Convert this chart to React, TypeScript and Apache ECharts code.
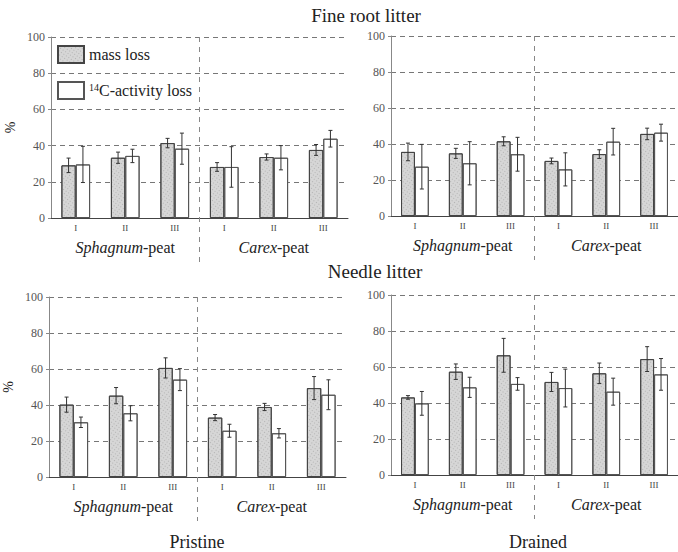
import React, { useEffect, useRef } from "react";
import * as echarts from "echarts";

const categories = ["I", "II", "III", "I ", "II ", "III "];
const groups = ["Sphagnum", "Carex"];

const finePristineMass = [29.1, 33.3, 41.4, 28.2, 33.7, 37.6];
const finePristineMassErr = [4.0, 3.1, 2.6, 2.4, 1.7, 3.0];
const finePristineC14 = [29.6, 34.3, 38.3, 28.2, 33.3, 43.8];
const finePristineC14Err = [10.0, 3.7, 8.6, 11.2, 6.7, 4.6];

const fineDrainedMass = [35.6, 34.8, 41.5, 30.6, 34.4, 45.6];
const fineDrainedMassErr = [4.9, 2.8, 2.5, 1.6, 2.4, 3.2];
const fineDrainedC14 = [27.4, 29.3, 34.3, 25.9, 41.3, 46.3];
const fineDrainedC14Err = [12.4, 12.0, 9.4, 9.2, 7.4, 4.7];

const needlePristineMass = [40.2, 45.2, 60.6, 33.0, 38.9, 49.4];
const needlePristineMassErr = [4.2, 4.5, 5.6, 1.7, 2.0, 6.4];
const needlePristineC14 = [30.4, 35.4, 54.1, 25.7, 24.3, 45.7];
const needlePristineC14Err = [2.9, 4.2, 6.1, 3.6, 2.6, 8.3];

const needleDrainedMass = [43.1, 57.4, 66.5, 51.7, 56.5, 64.4];
const needleDrainedMassErr = [1.0, 4.3, 9.4, 5.3, 5.7, 6.9];
const needleDrainedC14 = [39.8, 48.7, 50.6, 48.3, 46.3, 55.9];
const needleDrainedC14Err = [6.6, 5.6, 3.5, 10.5, 7.5, 8.8];

const FONT = "Times New Roman";
const GFONT = '"Liberation Serif", serif';
const GAP = 0.42;

const panels = [
  { mass: finePristineMass, massErr: finePristineMassErr, c14: finePristineC14, c14Err: finePristineC14Err, grid: { left: 51, top: 37, width: 297, height: 181 }, yName: "%" },
  { mass: fineDrainedMass, massErr: fineDrainedMassErr, c14: fineDrainedC14, c14Err: fineDrainedC14Err, grid: { left: 391, top: 36, width: 297, height: 180 }, yName: "" },
  { mass: needlePristineMass, massErr: needlePristineMassErr, c14: needlePristineC14, c14Err: needlePristineC14Err, grid: { left: 49, top: 297, width: 297, height: 180 }, yName: "%" },
  { mass: needleDrainedMass, massErr: needleDrainedMassErr, c14: needleDrainedC14, c14Err: needleDrainedC14Err, grid: { left: 391, top: 295, width: 297, height: 180 }, yName: "" },
];

const speckle = {
  symbol: "rect",
  symbolSize: 1,
  dashArrayX: [1, 2],
  dashArrayY: [1, 2],
  rotation: 0.6,
  color: "rgba(110,110,110,0.35)",
};
const noDecal = {
  symbol: "rect",
  symbolSize: 0,
  color: "rgba(255,255,255,0)",
};

export default function App() {
  const ref = useRef<HTMLDivElement>(null);
  useEffect(() => {
    if (!ref.current) return;
    const chart = echarts.init(ref.current, null, { renderer: "svg" });
    const grids: any[] = [];
    const xAxes: any[] = [];
    const yAxes: any[] = [];
    const series: any[] = [];
    panels.forEach((p, i) => {
      grids.push({ ...p.grid, containLabel: false });
      xAxes.push({
        type: "category",
        gridIndex: i,
        data: categories,
        axisLine: { lineStyle: { color: "#444", width: 1 } },
        axisTick: { show: false },
        axisLabel: { interval: 0, formatter: (v: string) => v.trim(), fontFamily: FONT, fontSize: 9, color: "#444", margin: 5 },
        splitLine: { show: false },
      });
      xAxes.push({
        type: "category",
        gridIndex: i,
        data: groups,
        position: "bottom",
        offset: 13,
        axisLine: { show: false },
        axisTick: { show: false },
        axisLabel: {
          interval: 0,
          margin: 8,
          fontFamily: FONT,
          formatter: (v: string) => `{i|${v}}{n|-peat}`,
          rich: {
            i: { fontFamily: FONT, fontStyle: "italic", fontSize: 16, color: "#222" },
            n: { fontFamily: FONT, fontSize: 16, color: "#222" },
          },
        },
      });
      yAxes.push({
        type: "value",
        gridIndex: i,
        min: 0,
        max: 100,
        interval: 20,
        name: p.yName,
        nameLocation: "middle",
        nameGap: 34,
        nameRotate: 90,
        nameTextStyle: { fontFamily: FONT, fontSize: 14, color: "#222" },
        axisLine: { show: true, lineStyle: { color: "#888" } },
        axisTick: { show: true, length: 3, lineStyle: { color: "#888" } },
        axisLabel: { fontFamily: FONT, fontSize: 12, color: "#555", margin: 6 },
        splitLine: { show: true, lineStyle: { color: "#777", type: [5, 4], width: 1 } },
      });
      series.push({
        type: "bar",
        name: "mass loss",
        xAxisIndex: 2 * i,
        yAxisIndex: i,
        data: p.mass,
        barGap: "0%",
        barCategoryGap: GAP * 100 + "%",
        itemStyle: { color: "#d6d6d6", borderColor: "#444", borderWidth: 1, decal: speckle },
      });
      series.push({
        type: "bar",
        name: "14C-activity loss",
        xAxisIndex: 2 * i,
        yAxisIndex: i,
        data: p.c14,
        barGap: "0%",
        barCategoryGap: GAP * 100 + "%",
        itemStyle: { color: "#ffffff", borderColor: "#555", borderWidth: 1, decal: noDecal },
      });
      const errData: number[][] = [];
      p.mass.forEach((v, j) => {
        errData.push([j, v - p.massErr[j], v + p.massErr[j], 0]);
        errData.push([j, p.c14[j] - p.c14Err[j], p.c14[j] + p.c14Err[j], 1]);
      });
      series.push({
        type: "custom",
        xAxisIndex: 2 * i,
        yAxisIndex: i,
        data: errData,
        encode: { x: 0, y: [1, 2] },
        z: 5,
        renderItem: (params: any, api: any) => {
          const idx = api.value(0);
          const lo = api.coord([idx, api.value(1)]);
          const hi = api.coord([idx, api.value(2)]);
          const band = api.size([1, 0])[0];
          const barW = (band * (1 - GAP)) / 2;
          const x = lo[0] + (api.value(3) === 0 ? -barW / 2 : barW / 2);
          const cap = 2;
          const st = { stroke: "#333", lineWidth: 1 };
          return {
            type: "group",
            children: [
              { type: "line", shape: { x1: x, y1: lo[1], x2: x, y2: hi[1] }, style: st },
              { type: "line", shape: { x1: x - cap, y1: lo[1], x2: x + cap, y2: lo[1] }, style: st },
              { type: "line", shape: { x1: x - cap, y1: hi[1], x2: x + cap, y2: hi[1] }, style: st },
            ],
          };
        },
      });
      series.push({
        type: "custom",
        xAxisIndex: 2 * i,
        yAxisIndex: i,
        data: [[3, 100]],
        clip: false,
        silent: true,
        z: 1,
        renderItem: (params: any, api: any) => {
          const top = api.coord([api.value(0), api.value(1)]);
          const base = api.coord([api.value(0), 0]);
          const band = api.size([1, 0])[0];
          const x = top[0] - band / 2;
          return {
            type: "line",
            shape: { x1: x, y1: top[1], x2: x, y2: base[1] + 44 },
            style: { stroke: "#888", lineWidth: 1, lineDash: [5, 5] },
          };
        },
      });
    });

    chart.setOption({
      animation: false,
      backgroundColor: "#fff",
      aria: { enabled: true, decal: { show: true } },
      textStyle: { fontFamily: FONT },
      grid: grids,
      xAxis: xAxes,
      yAxis: yAxes,
      series,
      legend: {
        data: ["mass loss", "14C-activity loss"],
        left: 57,
        top: 45,
        orient: "vertical",
        itemWidth: 26,
        itemHeight: 17,
        itemGap: 17,
        icon: "rect",
        padding: 0,
        formatter: (name: string) =>
          name === "14C-activity loss" ? "{sup|14}{n|C-activity loss}" : "{n|" + name + "}",
        textStyle: {
          fontFamily: FONT,
          fontSize: 16,
          rich: {
            sup: { fontFamily: FONT, fontSize: 10, color: "#222", padding: [0, 0, 7, 0] },
            n: { fontFamily: FONT, fontSize: 16, color: "#222" },
          },
        },
      },
      graphic: [
        { type: "text", x: 366, y: 15, style: { text: "Fine root litter", font: `19px ${GFONT}`, fill: "#222", textAlign: "center", textVerticalAlign: "middle" } },
        { type: "text", x: 375, y: 271, style: { text: "Needle litter", font: `19px ${GFONT}`, fill: "#222", textAlign: "center", textVerticalAlign: "middle" } },
        { type: "text", x: 197, y: 542, style: { text: "Pristine", font: `18px ${GFONT}`, fill: "#222", textAlign: "center", textVerticalAlign: "middle" } },
        { type: "text", x: 538, y: 542, style: { text: "Drained", font: `18px ${GFONT}`, fill: "#222", textAlign: "center", textVerticalAlign: "middle" } },
      ],
    });
    return () => chart.dispose();
  }, []);
  return <div ref={ref} style={{ position: "absolute", left: 0, top: 0, width: 678, height: 552 }} />;
}
